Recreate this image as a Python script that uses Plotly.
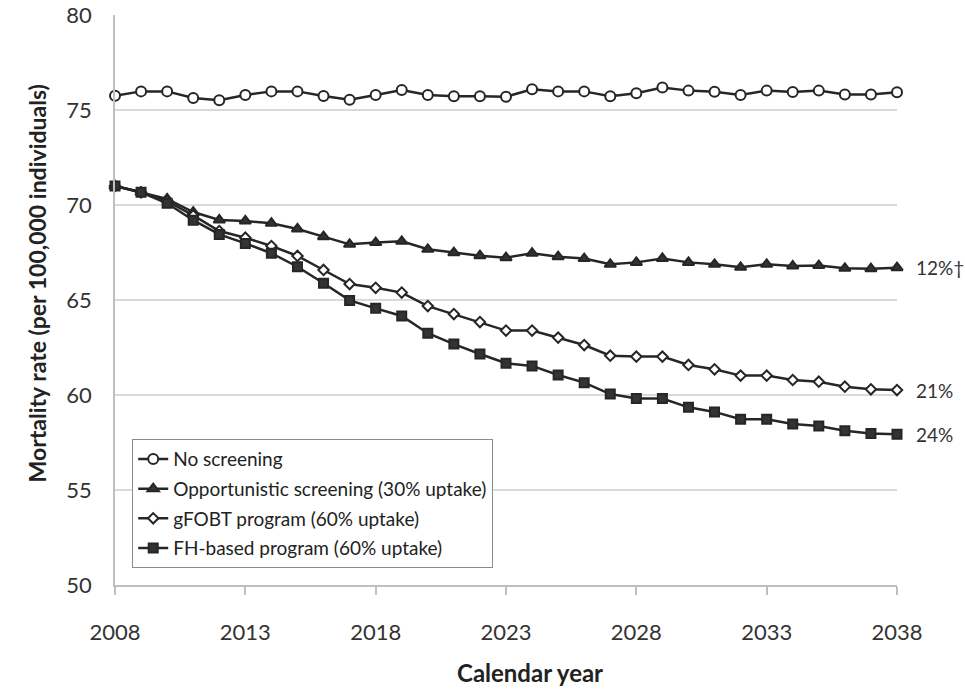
import plotly.graph_objects as go

# Calendar years simulated
years = list(range(2008, 2039))

# Colorectal cancer mortality rate (per 100,000 individuals) by scenario
no_screening = [75.75, 75.98, 75.98, 75.63, 75.51, 75.79, 75.98, 75.98, 75.74,
                75.54, 75.79, 76.05, 75.79, 75.72, 75.72, 75.70, 76.09, 75.98,
                75.98, 75.72, 75.88, 76.18, 76.02, 75.96, 75.79, 76.02, 75.95,
                76.02, 75.82, 75.82, 75.93]
opportunistic = [71.00, 70.67, 70.32, 69.63, 69.21, 69.16, 69.04, 68.74, 68.33,
                 67.93, 68.02, 68.09, 67.67, 67.49, 67.33, 67.23, 67.46, 67.28,
                 67.18, 66.88, 66.98, 67.19, 66.98, 66.88, 66.72, 66.88, 66.79,
                 66.81, 66.67, 66.65, 66.70]
gfobt = [71.00, 70.67, 70.20, 69.45, 68.63, 68.28, 67.84, 67.32, 66.58,
         65.84, 65.64, 65.39, 64.68, 64.26, 63.84, 63.39, 63.39, 63.02,
         62.63, 62.07, 62.02, 62.02, 61.58, 61.35, 61.02, 61.02, 60.79,
         60.70, 60.44, 60.30, 60.26]
fh_based = [71.00, 70.67, 70.09, 69.20, 68.45, 67.98, 67.46, 66.75, 65.88,
            64.98, 64.56, 64.16, 63.25, 62.68, 62.16, 61.67, 61.53, 61.05,
            60.65, 60.05, 59.82, 59.81, 59.35, 59.11, 58.72, 58.72, 58.47,
            58.37, 58.12, 57.98, 57.93]

series_names = ["No screening", "Opportunistic screening (30% uptake)",
                "gFOBT program (60% uptake)", "FH-based program (60% uptake)"]
end_labels = [None, "12%†", "21%", "24%"]

x_ticks = [2008, 2013, 2018, 2023, 2028, 2033, 2038]
y_ticks = [50, 55, 60, 65, 70, 75, 80]

FONT = "Lato, 'Open Sans', sans-serif"
INK = "#262626"

styles = [
    dict(symbol="circle", size=10, color="white"),
    dict(symbol="triangle-up", size=10, color="#333333"),
    dict(symbol="diamond", size=8, color="white"),
    dict(symbol="square", size=9, color="#333333"),
]

fig = go.Figure()
for i, (name, vals) in enumerate(zip(series_names,
                                     [no_screening, opportunistic, gfobt, fh_based])):
    st = styles[i]
    fig.add_trace(go.Scatter(
        x=years, y=vals, name=name, mode="lines+markers",
        legendgroup=f"g{i}",
        line=dict(color=INK, width=2.5),
        marker=dict(symbol=st["symbol"], size=st["size"], color=st["color"],
                    line=dict(color=INK, width=2)),
        cliponaxis=False,
    ))
    if end_labels[i]:
        fig.add_annotation(x=years[-1], y=vals[-1], text=end_labels[i],
                           showarrow=False, xanchor="left", xshift=17,
                           font=dict(family=FONT, size=19, color="#333333"))

fig.add_annotation(xref="paper", yref="paper", x=0.531, y=-0.154,
                   text="<b>Calendar year</b>", showarrow=False,
                   yanchor="middle",
                   font=dict(family=FONT, size=24, color="#222222"))
fig.add_annotation(xref="paper", yref="paper", x=-0.119, y=0.529,
                   text="<b>Mortality rate (per 100,000 individuals)</b>",
                   textangle=-90, showarrow=False,
                   font=dict(family=FONT, size=23, color="#222222"))

fig.update_layout(
    width=965, height=692,
    margin=dict(l=115, r=68, t=15, b=107, autoexpand=False),
    paper_bgcolor="white", plot_bgcolor="white",
    font=dict(family=FONT, color="#333333"),
    showlegend=True,
    legend=dict(
        x=0.022, y=0.256, xanchor="left", yanchor="top",
        bordercolor="#8c8c8c", borderwidth=1, bgcolor="white",
        font=dict(family=FONT, size=19, color="#222222"),
        traceorder="grouped", tracegroupgap=2,
        itemwidth=30,
    ),
    xaxis=dict(
        range=[2008, 2038], tickmode="array", tickvals=x_ticks,
        ticks="outside", ticklen=8, tickcolor="#bfbfbf", tickwidth=1.5,
        showline=True, linecolor="#bfbfbf", linewidth=1.5,
        showgrid=False, zeroline=False, automargin=False,
        tickfont=dict(family=FONT, size=22, color="#333333"),
        ticklabelstandoff=19,
    ),
    yaxis=dict(
        range=[50, 80], tickmode="array", tickvals=y_ticks,
        ticks="", showline=True, linecolor="#bfbfbf", linewidth=1.5,
        showgrid=True, gridcolor="#d9d9d9", gridwidth=1.5,
        zeroline=False, automargin=False,
        tickfont=dict(family=FONT, size=22, color="#333333"),
        ticklabelstandoff=17,
    ),
)

fig.write_html("out.html")
